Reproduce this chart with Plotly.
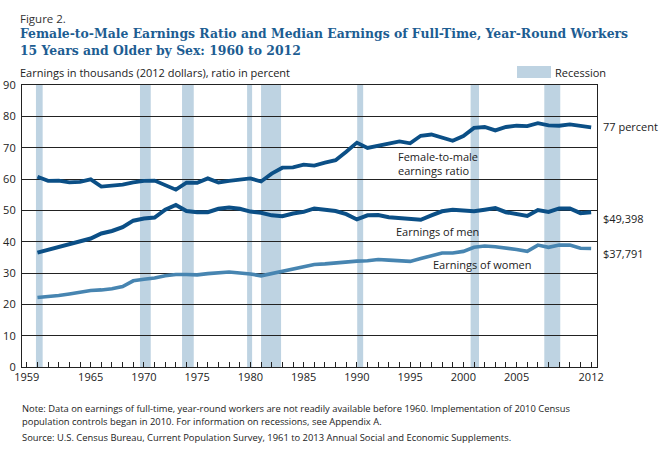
import plotly.graph_objects as go

years = list(range(1960, 2013))

ratio = [60.7, 59.4, 59.5, 58.9, 59.1, 59.9, 57.6, 57.8, 58.2, 58.9,
         59.4, 59.5, 57.9, 56.6, 58.8, 58.8, 60.2, 58.9, 59.4, 59.7,
         60.2, 59.2, 61.7, 63.6, 63.7, 64.6, 64.3, 65.2, 66.0, 68.7,
         71.6, 69.9, 70.6, 71.5, 72.0, 71.4, 73.8, 74.2, 73.2, 72.2,
         73.7, 76.3, 76.6, 75.5, 76.6, 77.0, 76.9, 77.8, 77.1, 77.0,
         77.4, 77.0, 76.5]

men = [36.5, 37.4, 38.3, 39.3, 40.2, 41.0, 42.6, 43.4, 44.6, 46.7,
       47.4, 47.7, 50.2, 51.7, 49.8, 49.4, 49.4, 50.5, 50.9, 50.5,
       49.6, 49.2, 48.4, 48.1, 49.0, 49.5, 50.6, 50.3, 49.8, 48.8,
       47.1, 48.4, 48.5, 47.8, 47.5, 47.4, 47.0, 48.4, 49.7, 50.2,
       49.9, 49.7, 50.2, 50.7, 49.4, 48.8, 48.2, 50.1, 49.5, 50.6,
       50.6, 49.1, 49.4]

women = [22.2, 22.4, 22.8, 23.3, 23.8, 24.4, 24.6, 25.0, 25.7, 27.5,
         28.0, 28.4, 29.1, 29.5, 29.5, 29.4, 29.8, 30.1, 30.3, 30.0,
         29.7, 29.1, 29.8, 30.6, 31.4, 32.1, 32.7, 32.9, 33.2, 33.7,
         33.8, 33.9, 34.3, 34.1, 33.9, 33.7, 34.6, 35.6, 36.4, 36.4,
         36.9, 38.2, 38.6, 38.4, 38.0, 37.5, 36.9, 38.9, 38.2, 38.9,
         38.9, 37.9, 37.8]

rec_start = [1959.86, 1969.63, 1973.58, 1979.69, 1981.0, 1990.03, 2000.68, 2007.6]
rec_end = [1960.49, 1970.64, 1974.68, 1980.16, 1982.88, 1990.59, 2001.47, 2009.1]

tick_years = [1959, 1965, 1970, 1975, 1980, 1985, 1990, 1995, 2000, 2005, 2012]
y_ticks = list(range(0, 91, 10))

DARK = "#0b4f86"
LIGHT = "#4785b1"
REC = "#bed3e2"
TITLE = "#1d5d92"
FONT = "Open Sans"

W, H = 666, 452
L, R, T, B = 22, 69, 85, 85
PW, PH = W - L - R, H - T - B


def px(x):
    return (x - L) / PW


def py(y):
    return (H - B - y) / PH


fig = go.Figure()

for name, vals, col, w in [("ratio", ratio, DARK, 3.8),
                           ("men", men, DARK, 4.0),
                           ("women", women, LIGHT, 3.6)]:
    fig.add_trace(go.Scatter(x=years, y=vals, mode="lines", name=name,
                             line=dict(color=col, width=w),
                             showlegend=False, hoverinfo="skip"))

shapes = []
for s, e in zip(rec_start, rec_end):
    shapes.append(dict(type="rect", xref="x", yref="paper", x0=s, x1=e,
                       y0=0, y1=1, fillcolor=REC, line=dict(width=0),
                       layer="below"))
# legend swatch
shapes.append(dict(type="rect", xref="paper", yref="paper",
                   x0=px(517), x1=px(551), y0=py(78), y1=py(66),
                   fillcolor=REC, line=dict(width=0)))

ann = []


def text(x, y, t, size=11, color="#222", xanchor="left", family=FONT, bold=False):
    if bold:
        t = "<b>" + t + "</b>"
    ann.append(dict(xref="paper", yref="paper", x=px(x), y=py(y), text=t,
                    showarrow=False, xanchor=xanchor, yanchor="middle",
                    align="left",
                    font=dict(size=size, color=color, family=family)))


text(18, 18, "Figure 2.", size=11.5, color="#333")
text(18, 34, "Female-to-Male Earnings Ratio and Median Earnings of Full-Time, Year-Round Workers",
     size=12.4, color=TITLE, family="DejaVu Serif", bold=True)
text(18, 50, "15 Years and Older by Sex: 1960 to 2012",
     size=12.4, color=TITLE, family="DejaVu Serif", bold=True)
text(18, 72, "Earnings in thousands (2012 dollars), ratio in percent", size=11)
text(553, 72, "Recession", size=11)

text(601, 126, "77 percent", size=11)
text(601, 218, "$49,398", size=11)
text(601, 253, "$37,791", size=11)

text(396, 163.5, "Female-to-male<br>earnings ratio", size=11)
text(394, 232, "Earnings of men", size=11)
text(431, 264, "Earnings of women", size=11)

text(20, 408, "Note: Data on earnings of full-time, year-round workers are not readily available before 1960. "
     "Implementation of 2010 Census", size=9.4)
text(20, 421, "population controls began in 2010. For information on recessions, see Appendix A.", size=9.4)
text(20, 437, "Source: U.S. Census Bureau, Current Population Survey, 1961 to 2013 Annual Social and "
     "Economic Supplements.", size=9.4)

fig.update_layout(
    width=W, height=H,
    margin=dict(l=L, r=R, t=T, b=B),
    paper_bgcolor="white", plot_bgcolor="white",
    shapes=shapes, annotations=ann,
    font=dict(family=FONT, size=11, color="#222"),
    xaxis=dict(range=[1958.55, 2012.55], tickvals=tick_years,
               ticktext=[str(t) for t in tick_years],
               ticks="inside", ticklen=5, tickcolor="#222", tickwidth=1,
               minor=dict(dtick=1, tick0=1959, ticks="inside", ticklen=5,
                          tickcolor="#222", tickwidth=1, showgrid=False),
               showgrid=False, zeroline=False, showline=True, linecolor="#222",
               linewidth=1.2, mirror=True, automargin=False,
               tickfont=dict(size=11, family=FONT, color="#222")),
    yaxis=dict(range=[0, 90], tickvals=y_ticks, showgrid=True,
               gridcolor="#222", gridwidth=1, zeroline=False,
               showline=True, linecolor="#222", linewidth=1.2, mirror=True,
               ticks="", automargin=False, ticklabelstandoff=3,
               tickfont=dict(size=11, family=FONT, color="#222")),
)

fig.write_html("out.html",
               config={"displayModeBar": False},
               post_script="document.body.style.margin='0px';"
                           "document.body.style.overflow='hidden';")
